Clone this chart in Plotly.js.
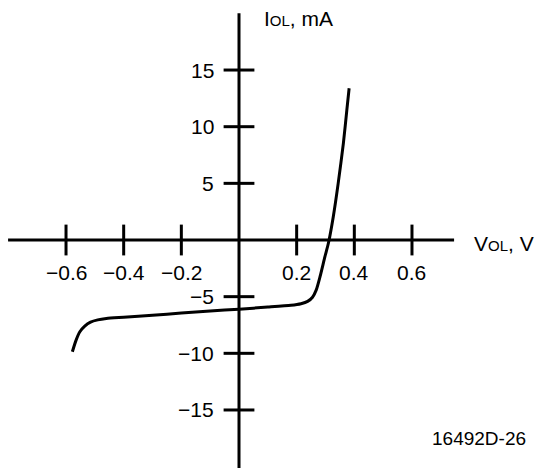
<!DOCTYPE html>
<html>
<head>
<meta charset="utf-8">
<script src="https://cdn.plot.ly/plotly-3.0.1.min.js"></script>
<style>html,body{margin:0;padding:0;background:#fff;}#chart{width:541px;height:468px;}</style>
</head>
<body>
<div id="chart"></div>
<script>
// Curve data: V_OL (V) vs I_OL (mA)
var vol = [-0.578, -0.566, -0.552, -0.535, -0.515, -0.49, -0.46, -0.40, -0.30, -0.20, -0.10, 0.0, 0.10, 0.18, 0.215, 0.238, 0.255, 0.268, 0.281, 0.298, 0.310, 0.327, 0.344, 0.362, 0.374, 0.382];
var iol = [-9.86, -8.9, -8.1, -7.6, -7.25, -7.05, -6.93, -6.82, -6.64, -6.45, -6.27, -6.10, -5.92, -5.76, -5.62, -5.42, -5.05, -4.40, -3.24, -1.47, -0.29, 2.06, 5.00, 8.53, 11.47, 13.39];

// Tick values and labels
var xTickVals = [-0.6, -0.4, -0.2, 0.2, 0.4, 0.6];
var xTickText = ["\u22120.6", "\u22120.4", "\u22120.2", "0.2", "0.4", "0.6"];
var yTickVals = [15, 10, 5, -5, -10, -15];
var yTickText = ["15", "10", "5", "\u22125", "\u221210", "\u221215"];

// Axis extents (data units)
var xAxisExtent = [-0.801, 0.746];
var yAxisExtent = [-21, 20.0];

var font = "Liberation Sans, Arial, Helvetica, sans-serif";
var ink = "#000";

var traces = [
  {x: xAxisExtent, y: [0, 0], mode: "lines", line: {color: ink, width: 3}, hoverinfo: "skip"},
  {x: [0, 0], y: yAxisExtent, mode: "lines", line: {color: ink, width: 3}, hoverinfo: "skip"},
  {x: xTickVals, y: xTickVals.map(function(){return 0;}), mode: "markers",
   marker: {symbol: "line-ns", size: 22, line: {color: ink, width: 3}}, hoverinfo: "skip"},
  {x: yTickVals.map(function(){return 0;}), y: yTickVals, mode: "markers",
   marker: {symbol: "line-ew", size: 22, line: {color: ink, width: 3}}, hoverinfo: "skip"},
  {x: vol, y: iol, mode: "lines", line: {color: ink, width: 3, shape: "spline", smoothing: 0.6}, hoverinfo: "skip"}
];

var annotations = [];
xTickVals.forEach(function(v, i){
  annotations.push({x: v, y: 0, xref: "x", yref: "y", text: xTickText[i], showarrow: false,
    xanchor: "center", yanchor: "middle", yshift: -32, font: {family: font, size: 21, color: ink}});
});
yTickVals.forEach(function(v, i){
  annotations.push({x: 0, y: v, xref: "x", yref: "y", text: yTickText[i], showarrow: false,
    xanchor: "right", yanchor: "middle", xshift: -23, font: {family: font, size: 21, color: ink}});
});
annotations.push({x: 472/541, y: 1 - 243/468, xref: "paper", yref: "paper", xanchor: "left", yanchor: "middle",
  text: "V<span style=\"font-size:15px\">OL</span>, V", showarrow: false, font: {family: font, size: 21, color: ink}});
annotations.push({x: 262/541, y: 1 - 19/468, xref: "paper", yref: "paper", xanchor: "left", yanchor: "middle",
  text: "I<span style=\"font-size:15px\">OL</span>, mA", showarrow: false, font: {family: font, size: 21, color: ink}});
annotations.push({x: 528/541, y: 1 - 438/468, xref: "paper", yref: "paper", xanchor: "right", yanchor: "middle",
  text: "16492D-26", showarrow: false, font: {family: font, size: 19, color: ink}});

var layout = {
  width: 541, height: 468,
  margin: {l: 0, r: 0, t: 0, b: 0, pad: 0},
  paper_bgcolor: "#fff", plot_bgcolor: "#fff",
  showlegend: false,
  xaxis: {range: [-0.829, 1.0475], visible: false, fixedrange: true},
  yaxis: {range: [-20.12, 21.18], visible: false, fixedrange: true},
  annotations: annotations
};

Plotly.newPlot("chart", traces, layout, {staticPlot: true, displayModeBar: false});
</script>
</body>
</html>
